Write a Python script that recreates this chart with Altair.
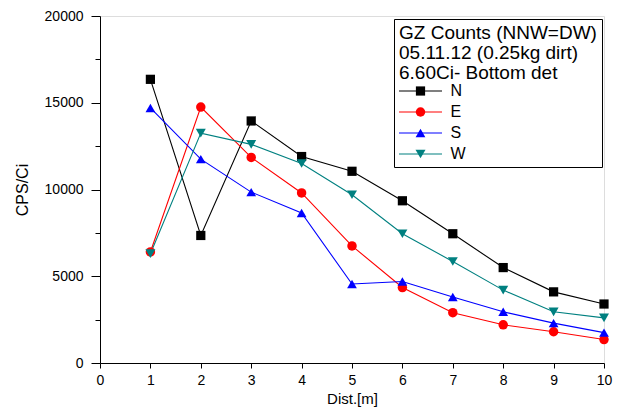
import altair as alt
import pandas as pd

series = ["N", "E", "S", "W"]
colors = ["#000000", "#ff0000", "#0000ff", "#008080"]
dist = [1, 2, 3, 4, 5, 6, 7, 8, 9, 10]
n_vals = [16350, 7350, 13950, 11900, 11050, 9350, 7450, 5500, 4100, 3400]
e_vals = [6400, 14750, 11850, 9800, 6750, 4350, 2900, 2200, 1800, 1350]
s_vals = [14700, 11750, 9850, 8650, 4550, 4700, 3800, 2950, 2300, 1750]
w_vals = [6300, 13250, 12600, 11500, 9700, 7450, 5850, 4200, 2950, 2600]
legend_title = ["GZ Counts (NNW=DW)", "05.11.12 (0.25kg dirt)", "6.60Ci- Bottom det"]
x_ticks = [0, 1, 2, 3, 4, 5, 6, 7, 8, 9, 10]
y_ticks = [0, 2500, 5000, 7500, 10000, 12500, 15000, 17500, 20000]

shapes = ["square", "circle", "triangle-up", "triangle-down"]
sizes = [85, 100, 120, 120]
legend_line_path = "M-4.3,0L4.3,0"

rows = []
for name, vals in zip(series, [n_vals, e_vals, s_vals, w_vals]):
    for d, v in zip(dist, vals):
        rows.append({"series": name, "dist": d, "value": v})
df = pd.DataFrame(rows)

FONT = "Liberation Sans"

x_enc = alt.X(
    "dist:Q",
    scale=alt.Scale(domain=[0, 10], nice=False),
    axis=alt.Axis(
        title="Dist.[m]", values=x_ticks, format="d", tickSize=5, labelPadding=5,
        labelFontSize=14, titleFontSize=15, titlePadding=4, grid=False,
        labelFlush=False, domainColor="black", tickColor="black",
        labelColor="black", titleColor="black", titleFontWeight="normal",
        labelFont=FONT, titleFont=FONT,
    ),
)
y_enc = alt.Y(
    "value:Q",
    scale=alt.Scale(domain=[0, 20000], nice=False),
    axis=alt.Axis(
        title="CPS/Ci", values=y_ticks, format="d",
        labelExpr="datum.value % 5000 === 0 ? datum.label : ''",
        tickSize={"condition": {"test": "datum.value % 5000 === 0", "value": 9}, "value": 5},
        labelPadding=8, labelFontSize=14, titleFontSize=16, titlePadding=14,
        grid=False, domainColor="black", tickColor="black", labelColor="black",
        titleColor="black", titleFontWeight="normal", labelFont=FONT, titleFont=FONT,
    ),
)

common = dict(
    title=legend_title, orient="none", legendX=294, legendY=3, padding=5,
    titleFontSize=19, titleFontWeight="normal", titleFont=FONT, titleColor="black",
    titleLineHeight=20, titlePadding=0, titleLimit=400,
    labelFontSize=16, labelFont=FONT, labelColor="black", labelOffset=22,
    symbolSize=100, symbolOffset=13.5, rowPadding=5,
)

# legend with the line segments, box, title and labels
line_legend = alt.Legend(
    strokeColor="black", fillColor="white", symbolType=legend_line_path,
    symbolStrokeWidth=1.2, zindex=0, **common,
)
# legend with the markers only, drawn over the line legend
marker_legend = alt.Legend(titleOpacity=0, labelOpacity=0, zindex=1, **common)

lines = alt.Chart(df).mark_line(strokeWidth=1.1).encode(
    x=x_enc, y=y_enc,
    stroke=alt.Stroke("series:N", sort=series, scale=alt.Scale(range=colors), legend=line_legend),
    detail="series:N", order="dist:Q",
)

points = alt.Chart(df).mark_point(filled=True, opacity=1, strokeWidth=0).encode(
    x=x_enc, y=y_enc,
    color=alt.Color("series:N", scale=alt.Scale(domain=series, range=colors), legend=marker_legend),
    shape=alt.Shape("series:N", scale=alt.Scale(domain=series, range=shapes), legend=marker_legend),
    size=alt.Size("series:N", scale=alt.Scale(domain=series, range=sizes), legend=None),
)

chart = alt.layer(lines, points).properties(
    width=504, height=347,
    autosize=alt.AutoSizeParams(type="none"),
    padding={"left": 92, "top": 8, "right": 9, "bottom": 44},
).configure_view(
    stroke="black", strokeWidth=1
).configure(
    font=FONT, background="white"
)

chart.save("out.html", embed_options={"renderer": "svg", "actions": False})
